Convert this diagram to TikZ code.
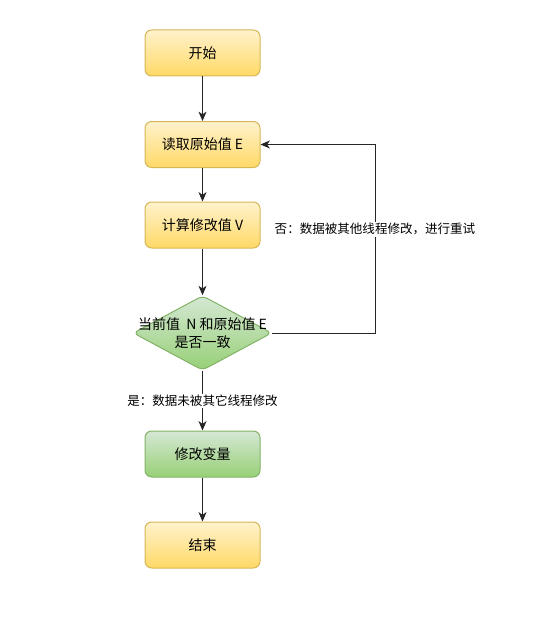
\documentclass[tikz,border=0pt]{standalone}
\usepackage{fontspec}
\setmainfont{Noto Sans CJK SC}
\usetikzlibrary{
    arrows.meta,
    shapes.geometric,
    positioning,
    calc
}
\definecolor{yellowtop}{HTML}{FFF2CC}
\definecolor{yellowbot}{HTML}{FFD966}
\definecolor{yellowline}{HTML}{D6B656}
\definecolor{greentop}{HTML}{D5E8D4}
\definecolor{greenbot}{HTML}{97D077}
\definecolor{greenline}{HTML}{82B366}
\tikzset{%
    >={Stealth[length=7pt,width=6pt,inset=2pt]},
    % Specifications for style of nodes:
    base/.style = {
        rectangle, rounded corners=5pt, line width=0.75pt,
        minimum width=86.25pt, minimum height=34.5pt,
        text centered, font=\fontsize{10.5}{13.5}\selectfont,
        align=center
    },
    process/.style = {base, draw=yellowline, top color=yellowtop, bottom color=yellowbot},
    update/.style = {base, draw=greenline, top color=greentop, bottom color=greenbot},
    decision/.style = {update, diamond, rounded corners=4pt, inner sep=0pt,
        minimum width=104pt, minimum height=56pt},
    edgelabel/.style = {fill=white, inner sep=1pt, font=\fontsize{9.4}{11}\selectfont},
    flow/.style = {->, line width=0.75pt, draw=black!85}
}
\begin{document}
\begin{tikzpicture}[x=0.75pt, y=-0.75pt]
    \useasboundingbox (0,0) rectangle (535,642);
    \node[process] (start) at (202.5,53) {开始};
    \node[process] (read) at (202.5,144.5) {读取原始值 E};
    \node[process] (calc) at (202.5,225) {计算修改值 V};
    \node[decision] (check) at (202.5,333) {\makebox[0pt]{当前值\ \ N 和原始值 E}\\\makebox[0pt]{是否一致}};
    \node[update] (modify) at (202.5,454) {修改变量};
    \node[process] (stop) at (202.5,545) {结束};
    \coordinate (back) at (375,333);
    % main flow
    \draw[flow] (start) -- (read);
    \draw[flow] (read) -- (calc);
    \draw[flow] (calc) -- (check);
    \draw[flow] (check) -- node[edgelabel] {是：数据未被其它线程修改} (modify);
    \draw[flow] (modify) -- (stop);
    % retry loop
    \draw[flow] (check.east) -- (back) |- node[edgelabel, pos=0.275] {否：数据被其他线程修改，进行重试} (read.east);
\end{tikzpicture}
\end{document}
